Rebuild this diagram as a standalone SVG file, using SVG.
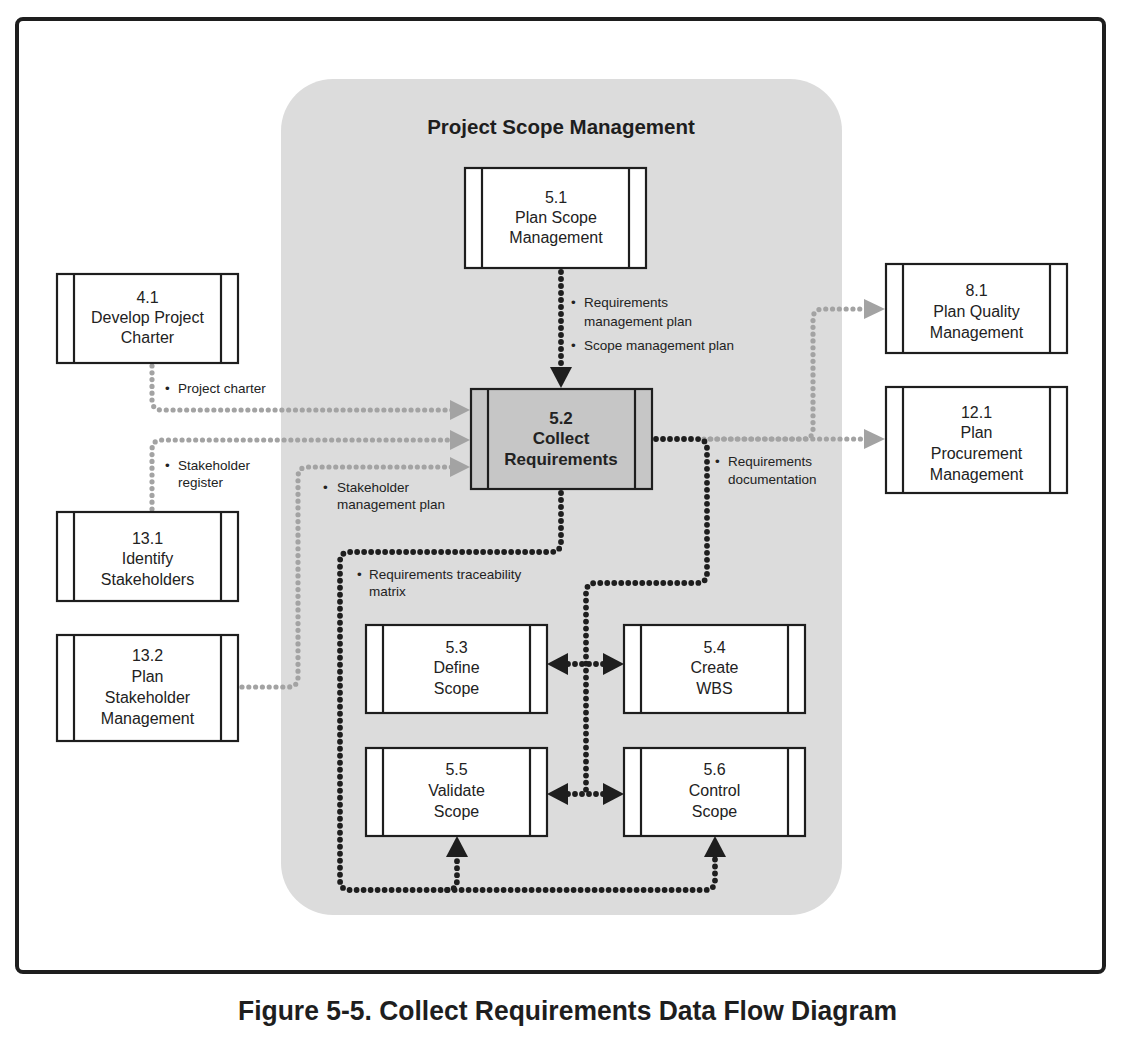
<svg xmlns="http://www.w3.org/2000/svg" width="1133" height="1045" viewBox="0 0 1133 1045">
<style>
.frame{fill:#fff;stroke:#1e1e1e;stroke-width:4}
.region{fill:#dcdcdc}
.box{fill:#fff;stroke:#1e1e1e;stroke-width:2.2}
.boxg{fill:#c6c6c6;stroke:#1e1e1e;stroke-width:2.2}
.bar{stroke:#1e1e1e;stroke-width:2.2}
.t{font-family:"Liberation Sans",Arial,sans-serif;font-size:16px;fill:#222;text-anchor:middle}
.tb{font-family:"Liberation Sans",Arial,sans-serif;font-size:17px;font-weight:bold;fill:#222;text-anchor:middle}
.lbl{font-family:"Liberation Sans",Arial,sans-serif;font-size:13.5px;fill:#222}
.title{font-family:"Liberation Sans",Arial,sans-serif;font-size:20.5px;font-weight:bold;fill:#1e1e1e;text-anchor:middle}
.cap{font-family:"Liberation Sans",Arial,sans-serif;font-size:28px;font-weight:bold;fill:#1e1e1e}
.blk{fill:none;stroke:#1e1e1e;stroke-width:5.8;stroke-linecap:round;stroke-dasharray:0 7}
.gry{fill:none;stroke:#a3a3a3;stroke-width:5.2;stroke-linecap:round;stroke-dasharray:0 6.8}
.ah{fill:#1e1e1e}
.ahg{fill:#a3a3a3}
</style>
<rect class="frame" x="17" y="19" width="1087" height="953" rx="6"/>
<rect class="region" x="281" y="79" width="561" height="836" rx="52"/>
<text class="title" x="561" y="134">Project Scope Management</text>

<g id="connectors">
  <!-- 5.1 -> 5.2 -->
  <path class="blk" d="M561,272 V366"/>
  <polygon class="ah" points="550,367 572,367 561,388"/>
  <!-- 4.1 -> 5.2 -->
  <path class="gry" d="M152,366 V400 Q152,410 162,410 H452"/>
  <polygon class="ahg" points="450,400 450,420 470,410"/>
  <!-- 13.1 -> 5.2 -->
  <path class="gry" d="M152,509 V450 Q152,440 162,440 H452"/>
  <polygon class="ahg" points="450,430 450,450 470,440"/>
  <!-- 13.2 -> 5.2 -->
  <path class="gry" d="M242,687 H288 Q298,687 298,677 V477 Q298,467 308,467 H452"/>
  <polygon class="ahg" points="450,457 450,477 470,467"/>
  <!-- 5.2 -> 12.1 / 8.1 -->
  <path class="gry" d="M704,439 H864"/>
  <path class="gry" d="M710,439 H803 Q813,439 813,429 V319 Q813,309 823,309 H864"/>
  <polygon class="ahg" points="864,429 864,449 885,439"/>
  <polygon class="ahg" points="864,299 864,319 885,309"/>
  <!-- 5.2 -> 5.3..5.6 (documentation) -->
  <path class="blk" d="M656,439 H697 Q707,439 707,449 V573 Q707,583 697,583 H596 Q586,583 586,593 V794"/>
  <path class="blk" d="M568,664 H604"/>
  <polygon class="ah" points="568,653 568,675 547,664"/>
  <polygon class="ah" points="603,653 603,675 624,664"/>
  <path class="blk" d="M568,794 H604"/>
  <polygon class="ah" points="568,783 568,805 547,794"/>
  <polygon class="ah" points="603,783 603,805 624,794"/>
  <!-- 5.2 -> 5.5 / 5.6 (traceability) -->
  <path class="blk" d="M561,493 V542 Q561,552 551,552 H350 Q340,552 340,562 V880 Q340,890 350,890 H705 Q715,890 715,880 V858"/>
  <path class="blk" d="M447,890 Q457,890 457,880 V858"/>
  <polygon class="ah" points="446,857 468,857 457,836"/>
  <polygon class="ah" points="704,857 726,857 715,836"/>
</g>

<g id="labels">
  <text class="lbl" x="571" y="307">•</text>
  <text class="lbl" x="584" y="307">Requirements</text>
  <text class="lbl" x="584" y="326">management plan</text>
  <text class="lbl" x="571" y="350">•</text>
  <text class="lbl" x="584" y="350">Scope management plan</text>

  <text class="lbl" x="165" y="393">•</text>
  <text class="lbl" x="178" y="393">Project charter</text>

  <text class="lbl" x="165" y="470">•</text>
  <text class="lbl" x="178" y="470">Stakeholder</text>
  <text class="lbl" x="178" y="487">register</text>

  <text class="lbl" x="323" y="492">•</text>
  <text class="lbl" x="337" y="492">Stakeholder</text>
  <text class="lbl" x="337" y="509">management plan</text>

  <text class="lbl" x="715" y="466">•</text>
  <text class="lbl" x="728" y="466">Requirements</text>
  <text class="lbl" x="728" y="484">documentation</text>

  <text class="lbl" x="357" y="579">•</text>
  <text class="lbl" x="369" y="579">Requirements traceability</text>
  <text class="lbl" x="369" y="596">matrix</text>
</g>

<g id="n5_1">
  <rect class="box" x="465" y="168" width="181" height="100"/>
  <line class="bar" x1="482" y1="168" x2="482" y2="268"/>
  <line class="bar" x1="629" y1="168" x2="629" y2="268"/>
  <text class="t" x="556" y="203">5.1</text>
  <text class="t" x="556" y="223">Plan Scope</text>
  <text class="t" x="556" y="243">Management</text>
</g>
<g id="n5_2">
  <rect class="boxg" x="471" y="389" width="181" height="100"/>
  <line class="bar" x1="488" y1="389" x2="488" y2="489"/>
  <line class="bar" x1="635" y1="389" x2="635" y2="489"/>
  <text class="tb" x="561" y="424">5.2</text>
  <text class="tb" x="561" y="444">Collect</text>
  <text class="tb" x="561" y="465">Requirements</text>
</g>
<g id="n4_1">
  <rect class="box" x="57" y="274" width="181" height="89"/>
  <line class="bar" x1="74" y1="274" x2="74" y2="363"/>
  <line class="bar" x1="221" y1="274" x2="221" y2="363"/>
  <text class="t" x="147.5" y="303">4.1</text>
  <text class="t" x="147.5" y="323">Develop Project</text>
  <text class="t" x="147.5" y="343">Charter</text>
</g>
<g id="n13_1">
  <rect class="box" x="57" y="512" width="181" height="89"/>
  <line class="bar" x1="74" y1="512" x2="74" y2="601"/>
  <line class="bar" x1="221" y1="512" x2="221" y2="601"/>
  <text class="t" x="147.5" y="544">13.1</text>
  <text class="t" x="147.5" y="564">Identify</text>
  <text class="t" x="147.5" y="585">Stakeholders</text>
</g>
<g id="n13_2">
  <rect class="box" x="57" y="635" width="181" height="106"/>
  <line class="bar" x1="74" y1="635" x2="74" y2="741"/>
  <line class="bar" x1="221" y1="635" x2="221" y2="741"/>
  <text class="t" x="147.5" y="661">13.2</text>
  <text class="t" x="147.5" y="682">Plan</text>
  <text class="t" x="147.5" y="703">Stakeholder</text>
  <text class="t" x="147.5" y="724">Management</text>
</g>
<g id="n8_1">
  <rect class="box" x="886" y="264" width="181" height="89"/>
  <line class="bar" x1="903" y1="264" x2="903" y2="353"/>
  <line class="bar" x1="1050" y1="264" x2="1050" y2="353"/>
  <text class="t" x="976.5" y="296">8.1</text>
  <text class="t" x="976.5" y="317">Plan Quality</text>
  <text class="t" x="976.5" y="338">Management</text>
</g>
<g id="n12_1">
  <rect class="box" x="886" y="387" width="181" height="106"/>
  <line class="bar" x1="903" y1="387" x2="903" y2="493"/>
  <line class="bar" x1="1050" y1="387" x2="1050" y2="493"/>
  <text class="t" x="976.5" y="418">12.1</text>
  <text class="t" x="976.5" y="438">Plan</text>
  <text class="t" x="976.5" y="459">Procurement</text>
  <text class="t" x="976.5" y="480">Management</text>
</g>
<g id="n5_3">
  <rect class="box" x="366" y="625" width="181" height="88"/>
  <line class="bar" x1="383" y1="625" x2="383" y2="713"/>
  <line class="bar" x1="530" y1="625" x2="530" y2="713"/>
  <text class="t" x="456.5" y="653">5.3</text>
  <text class="t" x="456.5" y="673">Define</text>
  <text class="t" x="456.5" y="694">Scope</text>
</g>
<g id="n5_4">
  <rect class="box" x="624" y="625" width="181" height="88"/>
  <line class="bar" x1="641" y1="625" x2="641" y2="713"/>
  <line class="bar" x1="788" y1="625" x2="788" y2="713"/>
  <text class="t" x="714.5" y="653">5.4</text>
  <text class="t" x="714.5" y="673">Create</text>
  <text class="t" x="714.5" y="694">WBS</text>
</g>
<g id="n5_5">
  <rect class="box" x="366" y="748" width="181" height="88"/>
  <line class="bar" x1="383" y1="748" x2="383" y2="836"/>
  <line class="bar" x1="530" y1="748" x2="530" y2="836"/>
  <text class="t" x="456.5" y="775">5.5</text>
  <text class="t" x="456.5" y="796">Validate</text>
  <text class="t" x="456.5" y="817">Scope</text>
</g>
<g id="n5_6">
  <rect class="box" x="624" y="748" width="181" height="88"/>
  <line class="bar" x1="641" y1="748" x2="641" y2="836"/>
  <line class="bar" x1="788" y1="748" x2="788" y2="836"/>
  <text class="t" x="714.5" y="775">5.6</text>
  <text class="t" x="714.5" y="796">Control</text>
  <text class="t" x="714.5" y="817">Scope</text>
</g>

<text class="cap" x="238" y="1020" textLength="659" lengthAdjust="spacingAndGlyphs">Figure 5-5. Collect Requirements Data Flow Diagram</text>
</svg>
